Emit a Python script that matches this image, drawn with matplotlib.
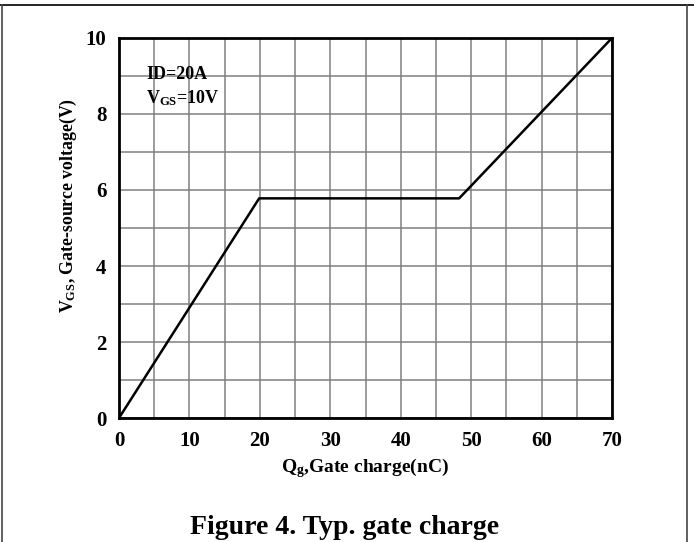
import matplotlib
matplotlib.use("Agg")
import matplotlib.pyplot as plt
from matplotlib.lines import Line2D

plt.rcParams['font.family'] = ['Liberation Serif', 'DejaVu Serif']
plt.rcParams['font.weight'] = 'bold'
plt.rcParams['mathtext.fontset'] = 'custom'
plt.rcParams['mathtext.rm'] = 'Liberation Serif:bold'
plt.rcParams['mathtext.it'] = 'Liberation Serif:bold'
plt.rcParams['mathtext.bf'] = 'Liberation Serif:bold'

# data
qg = [0, 19.9, 48.3, 70]
vgs = [0, 5.78, 5.78, 10]
x_ticks = [0, 10, 20, 30, 40, 50, 60, 70]
y_ticks = [0, 2, 4, 6, 8, 10]

fig = plt.figure(figsize=(6.94, 5.42), dpi=100)
ax = fig.add_axes([119/694, 1-418/542, (612-119)/694, (418-38)/542])

ax.plot(qg, vgs, color='black', lw=1.8, zorder=3)
ax.set_xlim(0, 70)
ax.set_ylim(0, 10)
ax.set_xticks(x_ticks)
ax.set_yticks(y_ticks)
ax.set_xticks(range(0, 71, 5), minor=True)
ax.set_yticks(range(0, 11, 1), minor=True)
ax.grid(which='both', color='#808080', lw=1.1)
ax.tick_params(which='both', length=0, labelsize=15, pad=9)
for lab in ax.get_xticklabels() + ax.get_yticklabels():
    lab.set_fontweight('bold')
for s in ax.spines.values():
    s.set_linewidth(2.0)
    s.set_zorder(4)

fig.text(365/694, 1-468/542, 'Q$_{\\mathrm{g}}$,Gate charge(nC)', fontsize=14, fontweight='bold',
         ha='center', va='center')
fig.text(68/694, 1-205/542, 'V$_{\\mathrm{GS}}$, Gate-source voltage(V)', fontsize=12.8, fontweight='bold',
         ha='center', va='center', rotation=90)

ax.text(0.055, 0.905, 'ID=20A', transform=ax.transAxes, fontsize=13, fontweight='bold', va='center')
ax.text(0.055, 0.842, 'V$_{\\mathrm{GS}}$=10V', transform=ax.transAxes, fontsize=13, fontweight='bold', va='center')

fig.text(345/694, 1-527/542, 'Figure 4. Typ. gate charge', fontsize=20, fontweight='bold',
         ha='center', va='center')

# outer frame
fig.add_artist(Line2D([0, 1], [1-5/542, 1-5/542], transform=fig.transFigure, color='black', lw=1.2))
fig.add_artist(Line2D([1.5/694, 1.5/694], [0, 1-5/542], transform=fig.transFigure, color='#444444', lw=1.2))
fig.add_artist(Line2D([687/694, 687/694], [0, 1-5/542], transform=fig.transFigure, color='#444444', lw=1.2))

fig.savefig('out.png', dpi=100)
